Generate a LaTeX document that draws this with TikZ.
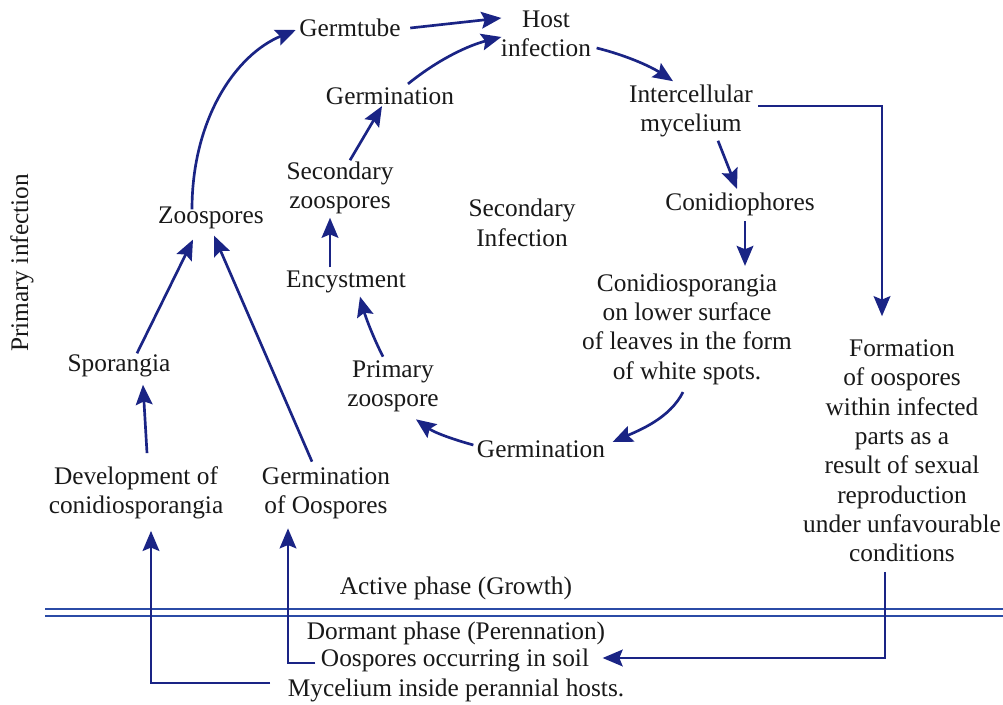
\documentclass[tikz,border=0pt]{standalone}
\usepackage{fontspec}
\setmainfont{Liberation Serif}
\newfontfamily\tms{Liberation Serif}
\usetikzlibrary{arrows.meta,calc}
\definecolor{arr}{HTML}{1A2485}
\definecolor{lineblue}{HTML}{2B4BA6}
\begin{document}
\begin{tikzpicture}[x=0.75pt,y=-0.75pt,
  lbl/.style={inner sep=1pt, align=center, text=black!90, font=\tms\fontsize{19}{22}\selectfont},
  arrow/.style={draw=arr, line width=2pt, -{Stealth[length=15pt,width=12.5pt,inset=2.5pt]}},
  phase/.style={draw=lineblue, line width=1.3pt}]
\useasboundingbox[fill=white] (0,0) rectangle (1003,705);

% nodes
\node[lbl, rotate=90] (pinf) at (22,263) {Primary infection};
\node[lbl] (germ) at (350,28) {Germtube};
\node[lbl] (host) at (546,34) {Host\\infection};
\node[lbl] (germ2) at (390,96) {Germination};
\node[lbl] (inter) at (691,111) {Intercellular\\mycelium};
\node[lbl] (sec) at (340,188) {Secondary\\zoospores};
\node[lbl] (zoo) at (211,218) {Zoospores};
\node[lbl] (secinf) at (522,223) {Secondary\\Infection};
\node[lbl] (conid) at (740,204) {Conidiophores};
\node[lbl] (enc) at (346,282) {Encystment};
\node[lbl] (consp) at (687,329) {Conidiosporangia\\on lower surface\\of leaves in the form\\of white spots.};
\node[lbl] (prim) at (393,386) {Primary\\zoospore};
\node[lbl] (spor) at (119,366) {Sporangia};
\node[lbl] (germ3) at (541,449) {Germination};
\node[lbl] (form) at (902,451) {Formation\\of oospores\\within infected\\parts as a\\result of sexual\\reproduction\\under unfavourable\\conditions};
\node[lbl] (dev) at (136,493) {Development of\\conidiosporangia};
\node[lbl] (goo) at (326,493) {Germination\\of Oospores};
\node[lbl] (act) at (456,588) {Active phase (Growth)};
\node[lbl] (dorm) at (456,633) {Dormant phase (Perennation)};
\node[lbl] (soil) at (455,660) {Oospores occurring in soil};
\node[lbl] (myc) at (456,690) {Mycelium inside perannial hosts.};

% phase separator
\draw[phase] (45,609) -- (1003,609);
\draw[phase] (45,616) -- (1003,616);

% connectors
\draw[arrow] ($(zoo.north)+(-19,4)$) .. controls (192,120) and (235,55) .. ($(germ.west)+(-2,2)$);
\draw[arrow] ($(germ.east)+(8,0)$) -- ($(host.west)+(2,-16)$);
\draw[arrow] ($(germ2.north)+(18,-2)$) .. controls (440,58) and (470,45) .. ($(host.west)+(2,3)$);
\draw[arrow] ($(host.east)+(4,14)$) .. controls (625,55) and (650,66) .. ($(inter.north)+(-18,-2)$);
\draw[arrow] ($(inter.south)+(27,2)$) -- ($(conid.north)+(-3,-2)$);
\draw[arrow] ($(conid.south)+(5,4)$) -- ($(conid.south |- consp.north)+(5,-6)$);
\draw[arrow] ($(inter.east)+(4,-5)$) -| ($(form.north)+(-20,-22)$);
\draw[arrow] ($(consp.south)+(-4,6)$) .. controls (670,418) and (640,430) .. ($(germ3.east)+(6,-7)$);
\draw[arrow] ($(germ3.west)+(-2,-4)$) .. controls (455,440) and (435,433) .. ($(prim.south)+(23,6)$);
\draw[arrow] ($(prim.north)+(-10,-2)$) .. controls (372,335) and (365,315) .. ($(enc.south)+(14,2)$);
\draw[arrow] ($(enc.north)+(-16,-2)$) -- ($(sec.south)+(-10,2)$);
\draw[arrow] ($(sec.north)+(10,0)$) -- ($(germ2.south)+(-8,0)$);
\draw[arrow] ($(dev.north)+(11,-12)$) -- ($(spor.south)+(24,6)$);
\draw[arrow] ($(spor.north)+(18,0)$) -- ($(zoo.south)+(-18,9)$);
\draw[arrow] ($(goo.north)+(-14,-4)$) -- ($(zoo.south)+(3,5)$);
\draw[arrow] ($(myc.west)+(-16,-7)$) -| ($(dev.south)+(15,10)$);
\draw[arrow] ($(soil.west)+(-4,3)$) -| ($(goo.south)+(-38,8)$);
\draw[arrow] ($(form.south)+(-17,8)$) |- ($(soil.east)+(12,-2)$);
\end{tikzpicture}
\end{document}
